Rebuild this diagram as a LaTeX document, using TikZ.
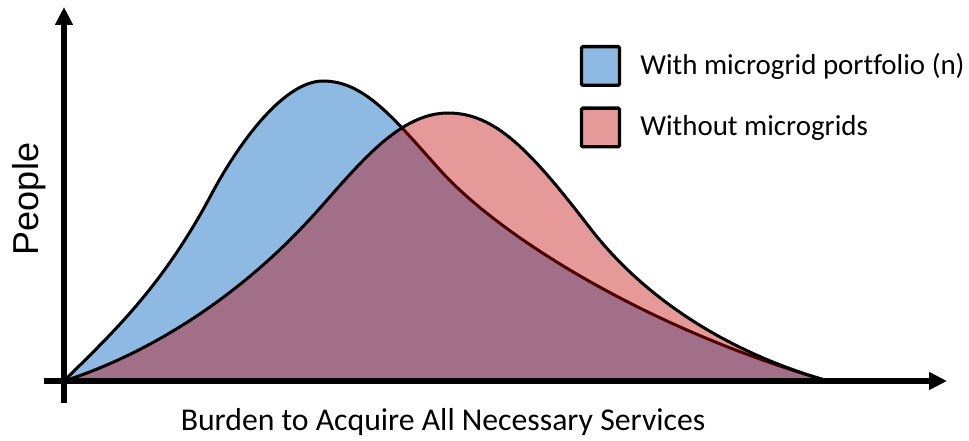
\documentclass[tikz,border=0pt]{standalone}
\usepackage{fontspec}
\setmainfont{Carlito}[Ligatures=NoCommon]
\newfontfamily\peoplefont{Liberation Sans}
\usetikzlibrary{arrows.meta}

\definecolor{withgrid}{RGB}{141,185,226}
\definecolor{nogrid}{RGB}{192,0,0}

\tikzset{
  axisline/.style={line width=4.5pt, -{Triangle[length=13.5pt,width=12.75pt]}},
  curveline/.style={line width=2.25pt, line join=round},
  keybox/.style={draw, line width=2.5pt, rounded corners=1pt, minimum width=28.5pt, minimum height=29pt, inner sep=0pt}
}

\begin{document}
\begin{tikzpicture}[x=0.75pt,y=0.75pt,yscale=-1,xscale=1]
\useasboundingbox (0,0) rectangle (969,441);

%Shape: Curve with microgrid portfolio
\filldraw [curveline, fill=withgrid] (64,381) .. controls (110,335) and (160,290) .. (210,197) .. controls (240,140) and (285,81) .. (323,81) .. controls (365,81) and (395,120) .. (440,170) .. controls (500,237) and (650,330) .. (828,381) -- cycle ;
%Shape: Curve without microgrids
\filldraw [curveline, fill=nogrid, fill opacity=0.4] (64,381) .. controls (130,360) and (230,310) .. (320,208) .. controls (360,163) and (400,113) .. (448,113) .. controls (495,113) and (530,150) .. (590,228) .. controls (640,293) and (720,350) .. (828,381) -- cycle ;

%Straight Lines: axes
\coordinate (xstart) at (44,381);
\coordinate (xend) at (947,381);
\coordinate (ystart) at (64,403);
\coordinate (yend) at (64,7);
\draw [axisline] (xstart) -- (xend) ;
\draw [axisline] (ystart) -- (yend) ;

%Shape: legend keys
\node [keybox, fill=withgrid] (keywith) at (600.5,66) {};
\node [keybox, fill=nogrid, fill opacity=0.4] (keywithout) at (600.5,127.5) {};

% Text Node
\node [anchor=west, inner sep=0.75pt, font=\fontsize{21.7pt}{25pt}\selectfont] (txtwith) at (639,66) {With microgrid portfolio (n)};
% Text Node
\node [anchor=west, inner sep=0.75pt, font=\fontsize{21.7pt}{25pt}\selectfont] (txtwithout) at (639,127.5) {Without microgrids};
% Text Node
\node [rotate=90, inner sep=0pt, font=\peoplefont\fontsize{27pt}{32pt}\selectfont] (ylabel) at (29,199) {People};
% Text Node
\node [inner sep=0.75pt, font=\fontsize{23.8pt}{28pt}\selectfont] (xlabel) at (443,422) {Burden to Acquire All Necessary Services};

\end{tikzpicture}
\end{document}
